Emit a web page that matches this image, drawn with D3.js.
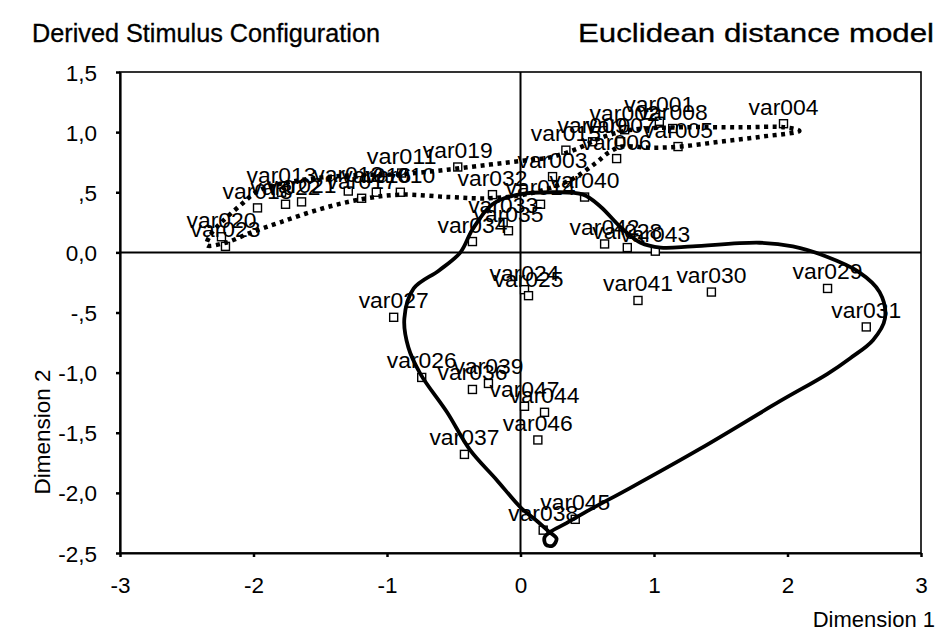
<!DOCTYPE html>
<html>
<head>
<meta charset="utf-8">
<script src="https://cdn.jsdelivr.net/npm/d3@7"></script>
<style>
  body { margin: 0; background: #fff; }
  svg { display: block; }
  text { font-family: "Liberation Sans", Arial, Helvetica, sans-serif; fill: #000; }
</style>
</head>
<body>
<svg id="chart" width="940" height="634"></svg>
<script>
// Stimulus coordinates (Dimension 1, Dimension 2)
const stimuli = ["var001","var002","var003","var004","var005","var006","var007","var008","var009","var010",
  "var011","var012","var013","var014","var015","var016","var017","var018","var019","var020",
  "var021","var022","var023","var024","var025","var026","var027","var028","var029","var030",
  "var031","var032","var033","var034","var035","var036","var037","var038","var039","var040",
  "var041","var042","var043","var044","var045","var046","var047"];
const dim1 = [1.04, 0.78, 0.24, 1.97, 1.18, 0.72, 0.75, 1.14, 0.54, -0.90,
  -0.89, -1.29, -1.79, 0.15, 0.34, -1.08, -1.19, -1.97, -0.47, -2.24,
  -1.64, -1.76, -2.21, 0.03, 0.06, -0.74, -0.95, 0.80, 2.30, 1.43,
  2.59, -0.21, -0.13, -0.36, -0.09, -0.36, -0.42, 0.17, -0.24, 0.48,
  0.88, 0.63, 1.01, 0.18, 0.41, 0.13, 0.03];
const dim2 = [1.09, 1.02, 0.63, 1.07, 0.88, 0.78, 0.92, 1.03, 0.92, 0.50,
  0.66, 0.51, 0.50, 0.40, 0.85, 0.50, 0.45, 0.37, 0.71, 0.13,
  0.42, 0.40, 0.05, -0.31, -0.36, -1.04, -0.54, 0.04, -0.30, -0.33,
  -0.62, 0.48, 0.25, 0.09, 0.18, -1.14, -1.68, -2.31, -1.09, 0.46,
  -0.40, 0.07, 0.01, -1.33, -2.22, -1.56, -1.28];

// Axis ticks
const xTicks = [-3, -2, -1, 0, 1, 2, 3];
const xTickLabels = ["-3", "-2", "-1", "0", "1", "2", "3"];
const yTicks = [1.5, 1, 0.5, 0, -0.5, -1, -1.5, -2, -2.5];
const yTickLabels = ["1,5", "1,0", ",5", "0,0", "-,5", "-1,0", "-1,5", "-2,0", "-2,5"];

// Hand-drawn group outline around the lower/central stimuli (solid)
const solidD1 = [0.26, -0.02, -0.21, -0.36, -0.45, -0.61, -0.80, -0.87, -0.84, -0.75,
  -0.55, -0.38, -0.18, 0.00, 0.13, 0.21, 0.27, 0.24, 0.19, 0.18,
  0.23, 0.33, 0.52, 0.82, 1.35, 1.94, 2.30, 2.47, 2.64, 2.73,
  2.69, 2.53, 2.28, 2.04, 1.79, 1.29, 1.05, 0.90, 0.75, 0.60, 0.47];
const solidD2 = [0.50, 0.48, 0.40, 0.19, 0.00, -0.15, -0.30, -0.55, -0.79, -1.01,
  -1.33, -1.64, -1.89, -2.12, -2.24, -2.32, -2.38, -2.44, -2.43, -2.37,
  -2.32, -2.26, -2.14, -1.96, -1.63, -1.24, -1.01, -0.88, -0.73, -0.55,
  -0.33, -0.16, -0.03, 0.05, 0.08, 0.05, 0.04, 0.08, 0.21, 0.38, 0.48];

// Group outline around the upper stimuli (dotted)
const dottedD1 = [-2.35, -2.32, -2.24, -2.10, -1.95, -1.65, -1.28, -0.90, -0.53, -0.23,
  0.00, 0.22, 0.42, 0.62, 0.84, 1.20, 1.64, 1.98, 2.09, 1.79,
  1.49, 1.20, 0.97, 0.76, 0.66, 0.56, 0.37, 0.07, -0.23, -0.53,
  -0.90, -1.20, -1.50, -1.80, -2.03, -2.21];
const dottedD2 = [0.06, 0.15, 0.25, 0.39, 0.52, 0.60, 0.64, 0.65, 0.69, 0.73,
  0.76, 0.79, 0.86, 0.96, 1.02, 1.04, 1.04, 1.04, 1.01, 0.96,
  0.92, 0.88, 0.87, 0.88, 0.83, 0.74, 0.60, 0.49, 0.45, 0.46,
  0.48, 0.44, 0.36, 0.25, 0.16, 0.08];

const svg = d3.select("#chart");
const plotLeft = 120, plotRight = 921, plotTop = 72, plotBottom = 553;

const x = d3.scaleLinear().domain([-3, 3]).range([plotLeft, plotRight]);
const y = d3.scaleLinear().domain([-2.5, 1.5]).range([plotBottom, plotTop]);

// Titles
svg.append("text").attr("x", 32).attr("y", 42)
  .attr("font-size", 25).attr("textLength", 348).attr("lengthAdjust", "spacingAndGlyphs")
  .attr("stroke", "#000").attr("stroke-width", 0.3)
  .text("Derived Stimulus Configuration");
svg.append("text").attr("x", 578).attr("y", 42)
  .attr("font-size", 25).attr("textLength", 356).attr("lengthAdjust", "spacingAndGlyphs")
  .attr("stroke", "#000").attr("stroke-width", 0.3)
  .text("Euclidean distance model");

// Plot frame
svg.append("rect").attr("x", plotLeft).attr("y", plotTop)
  .attr("width", plotRight - plotLeft).attr("height", plotBottom - plotTop)
  .attr("fill", "none").attr("stroke", "#000").attr("stroke-width", 1.6);

// Zero reference lines
svg.append("line").attr("x1", x(0)).attr("x2", x(0)).attr("y1", plotTop).attr("y2", plotBottom)
  .attr("stroke", "#000").attr("stroke-width", 2);
svg.append("line").attr("x1", plotLeft).attr("x2", plotRight).attr("y1", y(0)).attr("y2", y(0))
  .attr("stroke", "#000").attr("stroke-width", 2);

// Axes
const xAxis = svg.append("g").attr("transform", `translate(0,${plotBottom})`)
  .call(d3.axisBottom(x).tickValues(xTicks).tickSize(4).tickSizeOuter(0)
    .tickFormat((d, i) => xTickLabels[i]));
const yAxis = svg.append("g").attr("transform", `translate(${plotLeft},0)`)
  .call(d3.axisLeft(y).tickValues(yTicks).tickSize(4).tickSizeOuter(0)
    .tickFormat((d, i) => yTickLabels[i]));

[xAxis, yAxis].forEach(g => {
  g.select(".domain").attr("stroke", "#000").attr("stroke-width", 2.2);
  g.selectAll(".tick line").attr("stroke", "#000").attr("stroke-width", 2.5);
  g.selectAll(".tick text").attr("font-size", 22.5)
    .attr("font-family", "Liberation Sans, Arial, sans-serif").attr("fill", "#000");
});
xAxis.selectAll(".tick text").attr("y", 40).attr("dy", 0);
yAxis.selectAll(".tick text").attr("x", -23).attr("dy", "0.36em");

// Axis titles
svg.append("text").attr("x", 935).attr("y", 627).attr("text-anchor", "end")
  .attr("font-size", 22).text("Dimension 1");
svg.append("text").attr("transform", "translate(50,432) rotate(-90)")
  .attr("text-anchor", "middle").attr("font-size", 22.5).text("Dimension 2");

// Stimulus markers
const pts = stimuli.map((s, i) => ({ name: s, d1: dim1[i], d2: dim2[i] }));
svg.append("g").selectAll("rect").data(pts).join("rect")
  .attr("x", d => x(d.d1) - 4).attr("y", d => y(d.d2) - 4)
  .attr("width", 8).attr("height", 8)
  .attr("fill", "#fff").attr("stroke", "#000").attr("stroke-width", 1.4);

// Group outlines
const outline = d3.line().x(d => x(d[0])).y(d => y(d[1]))
  .curve(d3.curveCatmullRomClosed.alpha(0.5));
svg.append("path").datum(solidD1.map((v, i) => [v, solidD2[i]]))
  .attr("d", outline).attr("fill", "none").attr("stroke", "#000")
  .attr("stroke-width", 3.8).attr("stroke-linejoin", "round");
svg.append("path").datum(dottedD1.map((v, i) => [v, dottedD2[i]]))
  .attr("d", outline).attr("fill", "none").attr("stroke", "#000")
  .attr("stroke-width", 4.5).attr("stroke-dasharray", "4 4.5");

// Stimulus labels
svg.append("g").selectAll("text").data(pts).join("text")
  .attr("x", d => x(d.d1)).attr("y", d => y(d.d2) - 9)
  .attr("text-anchor", "middle").attr("font-size", 22)
  .attr("textLength", 70).attr("lengthAdjust", "spacingAndGlyphs")
  .text(d => d.name);
</script>
</body>
</html>
